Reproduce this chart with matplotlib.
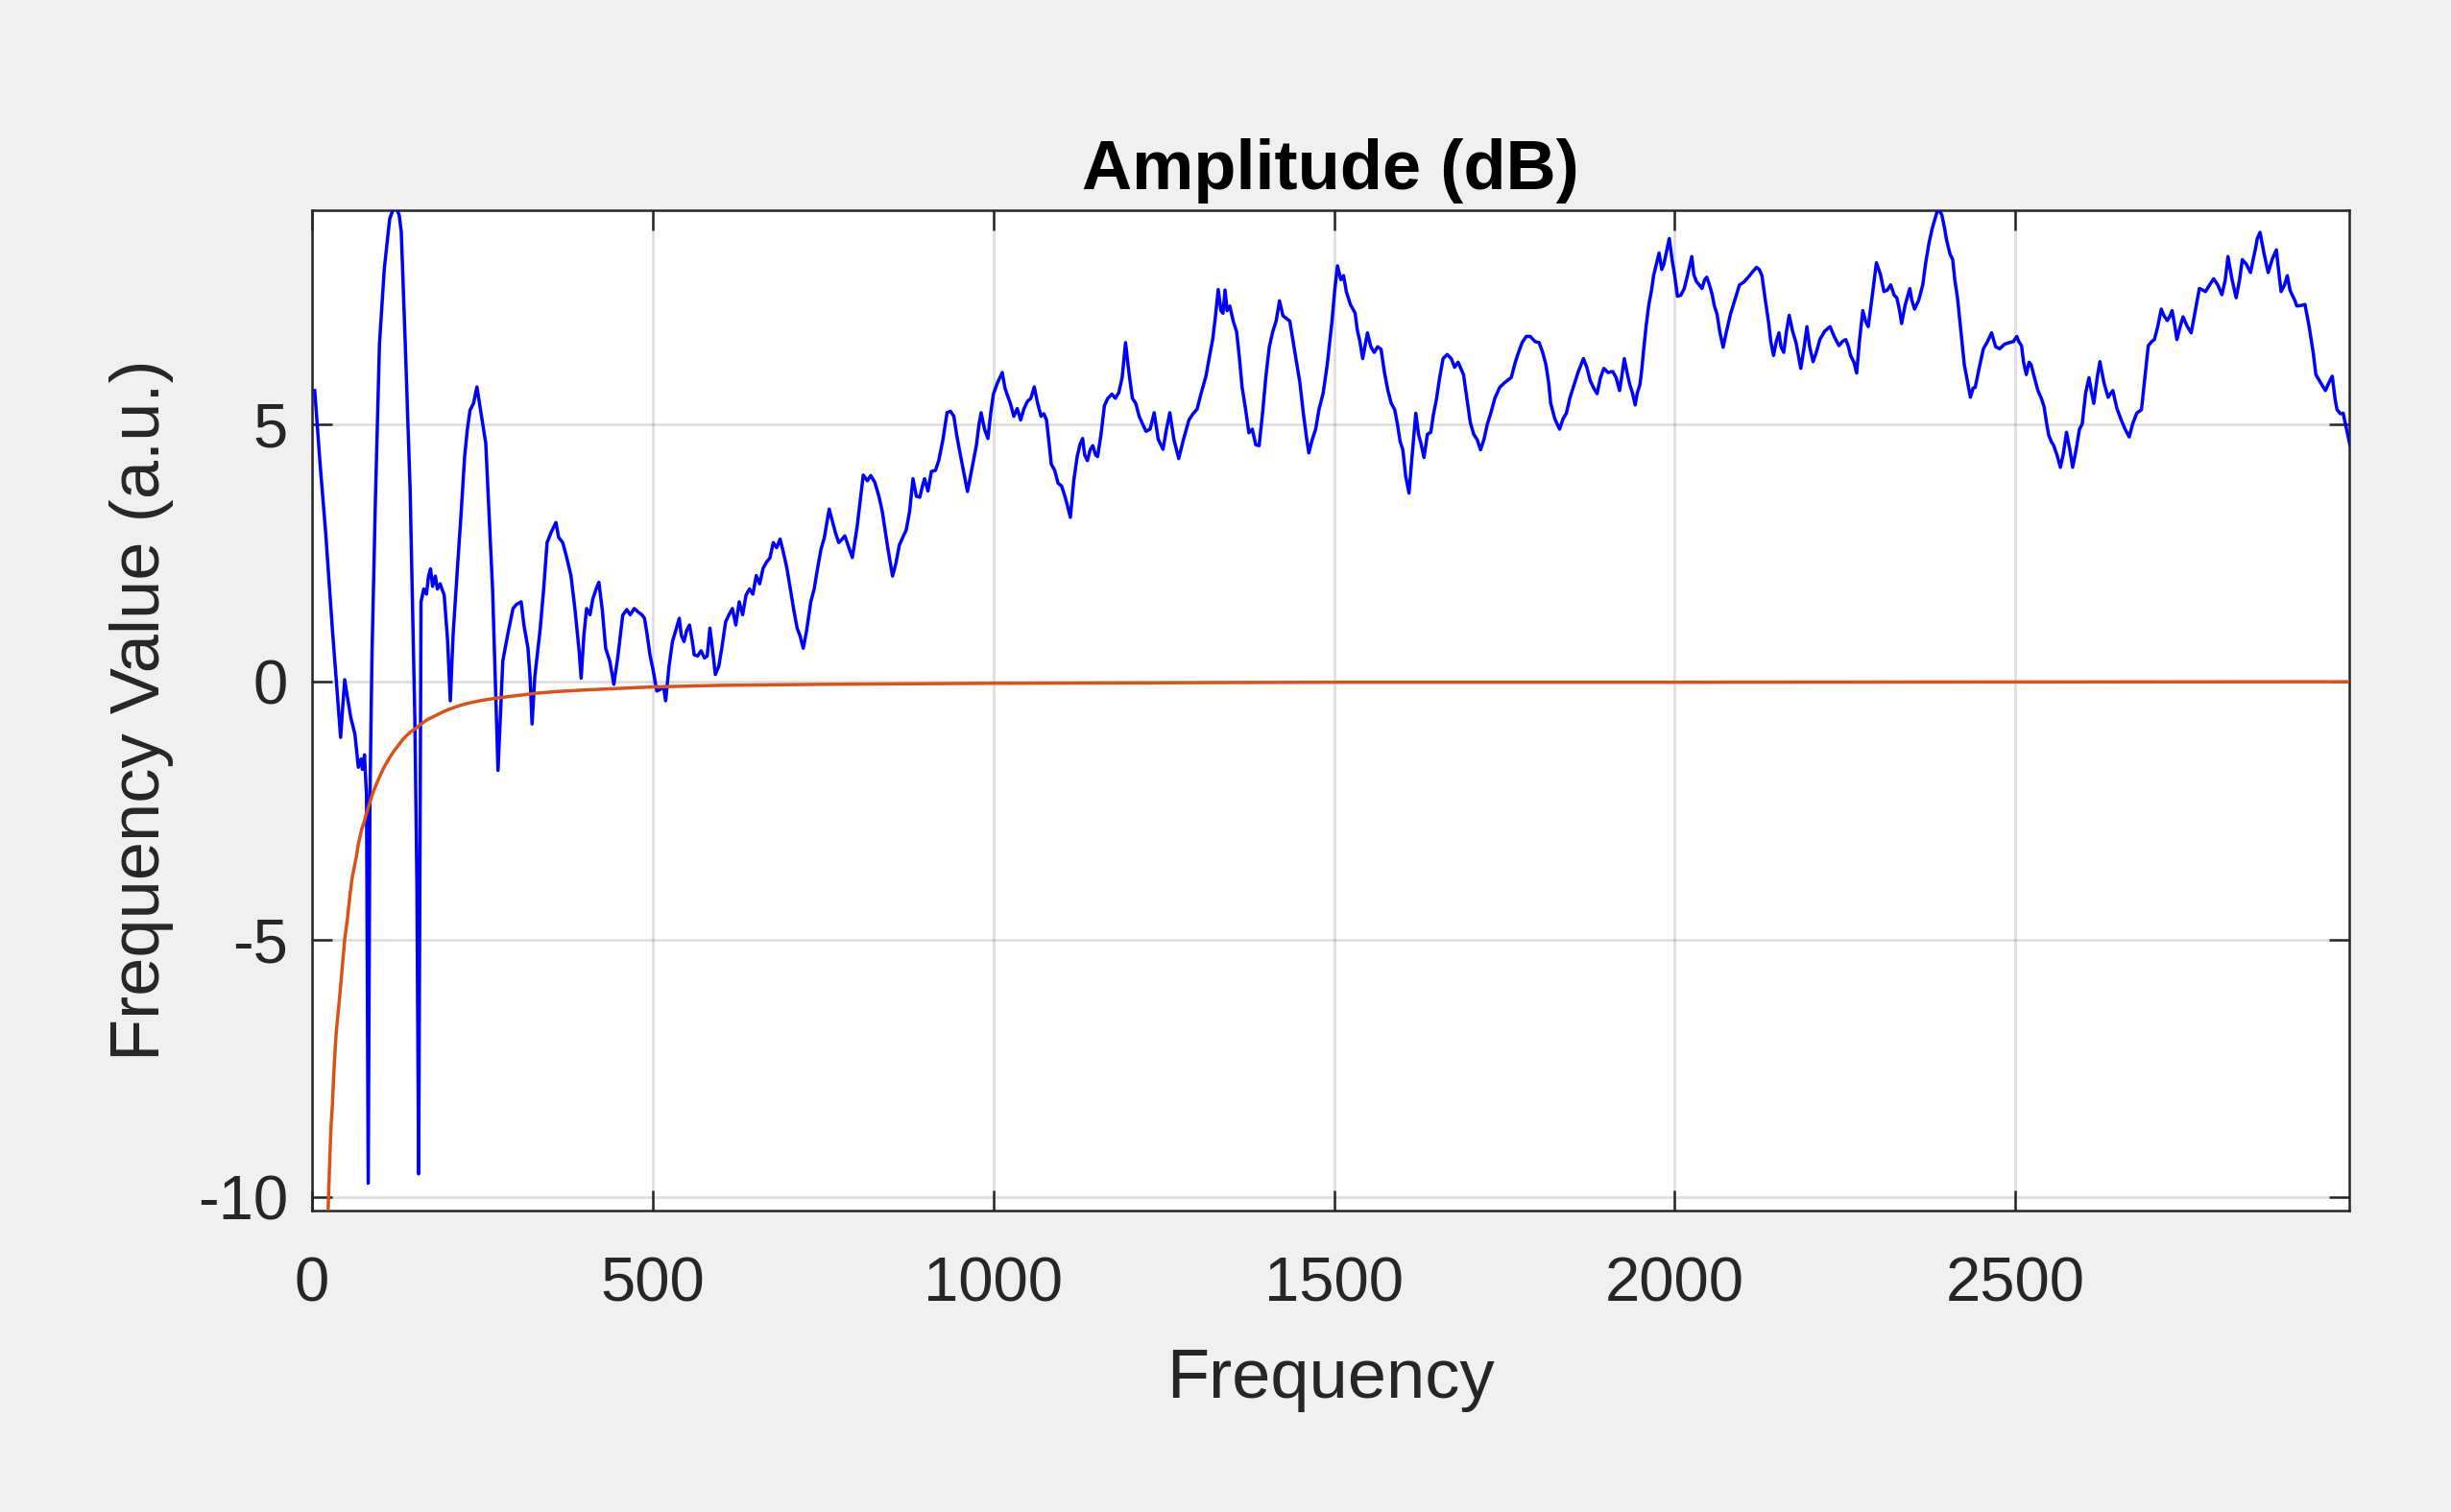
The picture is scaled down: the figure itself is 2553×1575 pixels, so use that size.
import matplotlib
matplotlib.use("Agg")
import matplotlib.pyplot as plt

plt.rcParams['font.family'] = ['Liberation Sans', 'DejaVu Sans']
plt.rcParams['axes.unicode_minus'] = False

# ---- data ----
blue_freq = [4, 12, 20, 30, 38, 42, 45, 48, 52, 57, 63, 66, 68, 72, 74, 77, 80, 82.5, 85, 88, 93, 99, 106, 114, 120, 124, 128, 131, 137, 144, 151, 154, 156.5, 158.5, 160, 164, 168, 171, 174, 177, 181, 184, 188, 194, 199, 203, 207, 214, 219, 224, 228, 232, 237, 242, 247, 255, 260, 265, 270, 273, 276, 280, 287, 295, 300, 307, 311, 317, 320, 323, 327, 335, 340, 345, 351, 358, 362, 368, 374, 380, 386, 392, 395, 399, 403, 408, 412, 417, 421, 426, 431, 437, 443, 449, 456, 462, 467, 473, 479, 484, 488, 492, 496, 501, 506, 511, 516, 519, 524, 529, 534, 539, 542, 546, 550, 554, 558, 561, 566, 571, 576, 580, 584, 588, 592, 597, 602, 607, 612, 617, 622, 627, 632, 637, 642, 647, 652, 657, 662, 667, 672, 677, 682, 687, 692, 697, 702, 707, 712, 716, 721, 726, 732, 737, 742, 747, 752, 759, 764, 768, 773, 777, 782,
             793, 800, 809, 815, 820, 826, 832, 837, 845, 852, 857, 862, 867, 872, 877, 882, 887, 892, 896, 899, 904, 909, 915, 920, 926, 932, 937, 942, 946, 950, 956, 962, 968, 975, 979, 982, 987, 992, 996, 1000, 1006, 1013, 1017, 1020, 1025, 1030, 1035, 1040, 1045, 1050, 1055, 1060, 1065, 1070, 1074, 1078, 1082, 1085, 1090, 1095, 1100, 1105, 1109, 1113, 1118, 1123, 1127, 1131, 1134, 1138, 1142, 1146, 1150, 1153, 1158, 1163, 1168, 1174, 1179, 1184, 1189, 1194, 1198, 1204, 1209, 1214, 1219, 1224, 1230, 1236, 1242, 1249, 1254, 1259, 1265, 1272, 1279, 1287, 1293, 1299, 1305, 1312, 1317, 1322, 1326, 1330, 1334, 1337, 1340, 1343, 1347, 1352, 1357, 1361, 1365, 1370, 1375, 1380, 1385, 1390, 1395, 1400, 1405, 1410, 1415, 1420, 1425, 1430, 1435, 1440, 1445, 1450, 1455, 1460, 1463, 1468, 1473, 1478, 1484, 1490, 1497, 1501, 1505, 1510,
             1514, 1518, 1524, 1531, 1534, 1538, 1542, 1549, 1554, 1559, 1564, 1569, 1574, 1579, 1584, 1589, 1593, 1597, 1601, 1605, 1610, 1614, 1620, 1624, 1628, 1632, 1637, 1642, 1646, 1650, 1655, 1660, 1666, 1672, 1677, 1682, 1690, 1695, 1700, 1705, 1710, 1715, 1720, 1725, 1730, 1736, 1743, 1750, 1755, 1760, 1766, 1771, 1776, 1782, 1788, 1795, 1801, 1806, 1811, 1815, 1818, 1824, 1831, 1836, 1841, 1846, 1851, 1858, 1866, 1871, 1876, 1881, 1886, 1891, 1896, 1902, 1909, 1914, 1919, 1922, 1926, 1930, 1934, 1938, 1942, 1945, 1949, 1952, 1954, 1958, 1962, 1966, 1969, 1973, 1977, 1981, 1984, 1988, 1992, 1996, 2000, 2004, 2009, 2014, 2019, 2025, 2028, 2032, 2036, 2040, 2044, 2047, 2051, 2055, 2058, 2062, 2066, 2071, 2076, 2082, 2088, 2095, 2101, 2108, 2114, 2120, 2124, 2128, 2133, 2138, 2141, 2145, 2149, 2153, 2156, 2160, 2164, 2168, 2173, 2178, 2182, 2185, 2190, 2194, 2198, 2203, 2208, 2213, 2220, 2228, 2234, 2241, 2246, 2251, 2255, 2258, 2263, 2267, 2271, 2276, 2280, 2284, 2290,
             2296, 2302, 2307, 2312, 2317, 2322, 2326, 2330, 2333, 2338, 2345, 2348, 2352, 2358, 2364, 2368, 2373, 2378, 2385, 2388, 2392, 2396, 2399, 2404, 2408, 2411, 2415, 2420, 2425, 2430, 2434, 2438, 2441, 2447, 2453, 2459, 2465, 2471, 2477, 2484, 2491, 2497, 2502, 2505, 2509, 2512, 2516, 2520, 2523, 2528, 2533, 2538, 2542, 2546, 2549, 2553, 2556, 2561, 2566, 2570, 2575, 2580, 2584, 2589, 2594, 2598, 2603, 2608, 2612, 2615, 2620, 2624, 2630, 2636, 2640, 2643, 2649, 2655, 2661, 2667, 2672, 2678, 2682, 2685, 2690, 2695, 2700, 2704, 2709, 2714, 2718, 2723, 2727, 2730, 2734, 2737, 2742, 2746, 2752, 2758, 2764, 2770, 2775, 2779, 2785, 2791, 2797, 2803, 2808, 2812, 2818, 2824, 2829, 2833, 2839, 2845, 2849, 2852, 2855, 2859, 2865, 2871, 2877, 2883, 2887, 2890, 2895, 2899, 2903, 2906, 2910, 2913, 2919, 2925, 2931, 2937, 2941, 2948, 2955, 2960, 2965, 2969, 2972, 2977, 2981, 2986, 2991]

blue_amp = [5.65, 4.2, 2.9, 1.0, -0.4, -1.08, -0.5, 0.04, -0.3, -0.7, -1.02, -1.4, -1.66, -1.5, -1.7, -1.42, -2.2, -9.73, -2.3, 0.5, 3.5, 6.55, 8.0, 8.98, 9.2, 9.2, 9.05, 8.73, 6.5, 3.73, -0.76, -4.0, -9.55, -3.0, 1.55, 1.80, 1.7, 2.05, 2.19, 1.85, 2.05, 1.80, 1.9, 1.68, 0.8, -0.37, 0.9, 2.32, 3.3, 4.37, 4.9, 5.27, 5.4, 5.72, 5.3, 4.63, 3.2, 1.80, -0.4, -1.72, -0.8, 0.40, 0.9, 1.42, 1.5, 1.55, 1.1, 0.65, 0.1, -0.82, 0.1, 1.04, 1.8, 2.70, 2.9, 3.09, 2.8, 2.70, 2.4, 2.06, 1.4, 0.6, 0.07, 0.9, 1.42, 1.3, 1.6, 1.8, 1.93, 1.4, 0.65, 0.4, -0.05, 0.5, 1.29, 1.4, 1.3, 1.42, 1.35, 1.3, 1.23, 0.9, 0.52, 0.2, -0.18, -0.15, -0.1, -0.37, 0.3, 0.78, 1.0, 1.23, 0.9, 0.78, 1.0, 1.10, 0.8, 0.52, 0.5, 0.6, 0.46, 0.5, 1.04, 0.6, 0.14, 0.3, 0.7, 1.16, 1.3, 1.42, 1.1, 1.55, 1.3, 1.68, 1.8, 1.7, 2.06, 1.9, 2.2, 2.32, 2.4, 2.70, 2.6, 2.77, 2.5, 2.2, 1.80, 1.4, 1.04, 0.9, 0.65, 1.0, 1.55, 1.8, 2.2, 2.57, 2.8, 3.35, 3.1, 2.9, 2.70, 2.75, 2.83,
            2.41, 3.0, 4.01, 3.9, 4.0, 3.87, 3.6, 3.30, 2.6, 2.05, 2.3, 2.65, 2.8, 2.94, 3.3, 3.94, 3.6, 3.58, 3.8, 3.94, 3.7, 4.08, 4.1, 4.30, 4.7, 5.22, 5.25, 5.15, 4.8, 4.51, 4.1, 3.69, 4.1, 4.58, 5.0, 5.22, 4.9, 4.72, 5.2, 5.58, 5.8, 6.00, 5.7, 5.58, 5.4, 5.15, 5.3, 5.08, 5.3, 5.44, 5.5, 5.72, 5.4, 5.15, 5.2, 5.08, 4.6, 4.22, 4.1, 3.85, 3.80, 3.6, 3.4, 3.19, 3.9, 4.37, 4.6, 4.72, 4.4, 4.29, 4.5, 4.58, 4.4, 4.37, 4.8, 5.36, 5.5, 5.58, 5.5, 5.61, 5.9, 6.58, 6.1, 5.50, 5.4, 5.15, 5.0, 4.86, 4.9, 5.22, 4.7, 4.51, 4.9, 5.22, 4.7, 4.33, 4.7, 5.08, 5.2, 5.29, 5.6, 5.93, 6.3, 6.65, 7.1, 7.61, 7.2, 7.15, 7.6, 7.2, 7.29, 7.0, 6.79, 6.3, 5.72, 5.3, 4.83, 4.9, 4.6, 4.58, 5.2, 5.93, 6.5, 6.79, 7.0, 7.39, 7.1, 7.05, 7.00, 6.6, 6.2, 5.79, 5.2, 4.7, 4.44, 4.7, 4.9, 5.29, 5.6, 6.15, 7.0, 7.6, 8.07, 7.8,
            7.88, 7.57, 7.32, 7.15, 6.83, 6.6, 6.27, 6.77, 6.5, 6.39, 6.5, 6.45, 6.0, 5.65, 5.4, 5.28, 5.0, 4.66, 4.5, 4.0, 3.66, 4.3, 5.21, 4.8, 4.6, 4.35, 4.8, 4.84, 5.2, 5.46, 5.9, 6.27, 6.35, 6.27, 6.1, 6.2, 5.96, 5.5, 5.03, 4.8, 4.7, 4.50, 4.7, 5.0, 5.21, 5.5, 5.71, 5.8, 5.85, 5.90, 6.2, 6.4, 6.58, 6.7, 6.70, 6.6, 6.58, 6.4, 6.15, 5.8, 5.40, 5.1, 4.90, 5.1, 5.21, 5.5, 5.71, 6.0, 6.27, 6.1, 5.84, 5.7, 5.59, 5.9, 6.08, 6.0, 6.02, 5.9, 5.65, 5.9, 6.27, 6.0, 5.77, 5.6, 5.37, 5.6, 5.77, 6.1, 6.39, 6.9, 7.32, 7.6, 7.88, 8.1, 8.32, 8.0, 8.10, 8.35, 8.60, 8.2, 7.88, 7.48, 7.5, 7.63, 7.9, 8.25, 7.9, 7.76, 7.7, 7.63, 7.8, 7.85, 7.7, 7.51, 7.3, 7.14, 6.8, 6.49, 6.8, 7.14, 7.4, 7.70, 7.75, 7.85, 7.95, 8.04, 8.0, 7.88, 7.4, 6.95, 6.6, 6.33, 6.6, 6.77, 6.5, 6.39, 6.8, 7.11, 6.8, 6.58, 6.3, 6.08, 6.5, 6.89, 6.5, 6.21, 6.4, 6.64, 6.8, 6.89, 6.7, 6.52, 6.6, 6.64, 6.5, 6.33, 6.2, 5.99, 6.6, 7.20, 7.0, 6.89, 7.5,
            8.13, 7.9, 7.57, 7.6, 7.70, 7.5, 7.45, 7.2, 6.95, 7.3, 7.63, 7.4, 7.23, 7.4, 7.70, 8.1, 8.50, 8.8, 9.12, 9.15, 9.06, 8.8, 8.57, 8.3, 8.19, 7.8, 7.45, 6.8, 6.15, 5.8, 5.52, 5.7, 5.71, 6.1, 6.46, 6.6, 6.77, 6.5, 6.46, 6.55, 6.58, 6.6, 6.70, 6.6, 6.52, 6.2, 5.96, 6.2, 6.15, 5.9, 5.65, 5.5, 5.34, 5.0, 4.78, 4.65, 4.59, 4.4, 4.16, 4.4, 4.84, 4.5, 4.16, 4.5, 4.90, 5.0, 5.6, 5.90, 5.6, 5.40, 5.9, 6.21, 5.8, 5.52, 5.6, 5.65, 5.3, 5.09, 4.9, 4.75, 5.0, 5.21, 5.25, 5.28, 5.9, 6.52, 6.6, 6.64, 6.9, 7.23, 7.1, 7.01, 7.1, 7.20, 6.9, 6.64, 6.9, 7.08, 6.9, 6.77, 7.2, 7.63, 7.6, 7.57, 7.7, 7.82, 7.7, 7.51, 7.8, 8.25, 7.8, 7.45, 7.8, 8.19, 8.1, 7.94, 8.2, 8.38, 8.6, 8.72, 8.3, 7.94, 8.2, 8.38, 7.9, 7.57, 7.7, 7.88, 7.6, 7.51, 7.4, 7.29, 7.3, 7.32, 6.9, 6.39, 5.96, 5.8, 5.65, 5.8, 5.93, 5.5, 5.28, 5.2, 5.21, 4.9, 4.59]

orange_freq = [21, 22, 23.5, 25, 26.5, 28, 30, 32, 35, 37, 40, 44, 48, 52, 56, 59, 62, 65, 68, 73, 77, 80, 84, 87, 91, 95, 100, 105, 110, 115, 120, 127, 134, 140, 146, 153, 160, 170, 181, 190, 200, 215, 228, 250, 275, 300, 331, 360, 400, 450, 500, 600, 750, 1000, 1500, 2000, 2990]
orange_amp = [-11.0, -10.7, -10.3, -9.7, -9.1, -8.6, -8.2, -7.6, -6.9, -6.6, -6.2, -5.6, -5.0, -4.6, -4.1, -3.8, -3.6, -3.4, -3.15, -2.86, -2.7, -2.55, -2.38, -2.25, -2.1, -1.97, -1.82, -1.68, -1.56, -1.45, -1.35, -1.23, -1.11, -1.03, -0.96, -0.90, -0.82, -0.73, -0.66, -0.60, -0.54, -0.47, -0.42, -0.36, -0.31, -0.27, -0.22, -0.19, -0.16, -0.13, -0.10, -0.07, -0.05, -0.03, -0.01, -0.01, 0.0]

xticks = [0, 500, 1000, 1500, 2000, 2500]
yticks = [-10, -5, 0, 5]

title_text = "Amplitude (dB)"
xlabel_text = "Frequency"
ylabel_text = "Frequency Value (a.u.)"

# ---- figure ----
fig = plt.figure(figsize=(25.53, 15.75), dpi=100, facecolor='#f0f0f0')
ax = fig.add_axes([0.1273, 0.1994, 0.8312, 0.6616])
ax.set_facecolor('white')

ax.plot(blue_freq, blue_amp, color='#0000ff', lw=2.5, zorder=3)
ax.plot(orange_freq, orange_amp, color='#D95319', lw=2.5, zorder=3)

ax.set_xlim(0, 2990)
ax.set_ylim(-10.26, 9.15)
ax.set_xticks(xticks)
ax.set_yticks(yticks)
ax.set_xticklabels([str(t) for t in xticks])
ax.set_yticklabels([str(t) for t in yticks])

ax.grid(True, color='#262626', alpha=0.15, lw=2.0)
ax.set_axisbelow(True)

for s in ax.spines.values():
    s.set_color('#262626')
    s.set_linewidth(1.8)

ax.tick_params(direction='in', length=15, width=1.8, color='#262626',
               top=True, right=True, labelsize=47, labelcolor='#262626')
ax.tick_params(axis='x', pad=34)
ax.tick_params(axis='y', pad=18)

fig.text(0.5429, 1 - 177.5 / 1575, title_text, ha='center', va='center',
         fontsize=52, fontweight='bold', color='black')

ax.set_xlabel(xlabel_text, fontsize=52, color='#262626')
ax.set_ylabel(ylabel_text, fontsize=52, color='#262626')
ax.xaxis.label.set_va('center')
ax.yaxis.label.set_va('center')
ax.xaxis.set_label_coords(0.5, -0.169)
ax.yaxis.set_label_coords(-0.0835, 0.5)

fig.savefig('out.png', dpi=100, facecolor=fig.get_facecolor())
